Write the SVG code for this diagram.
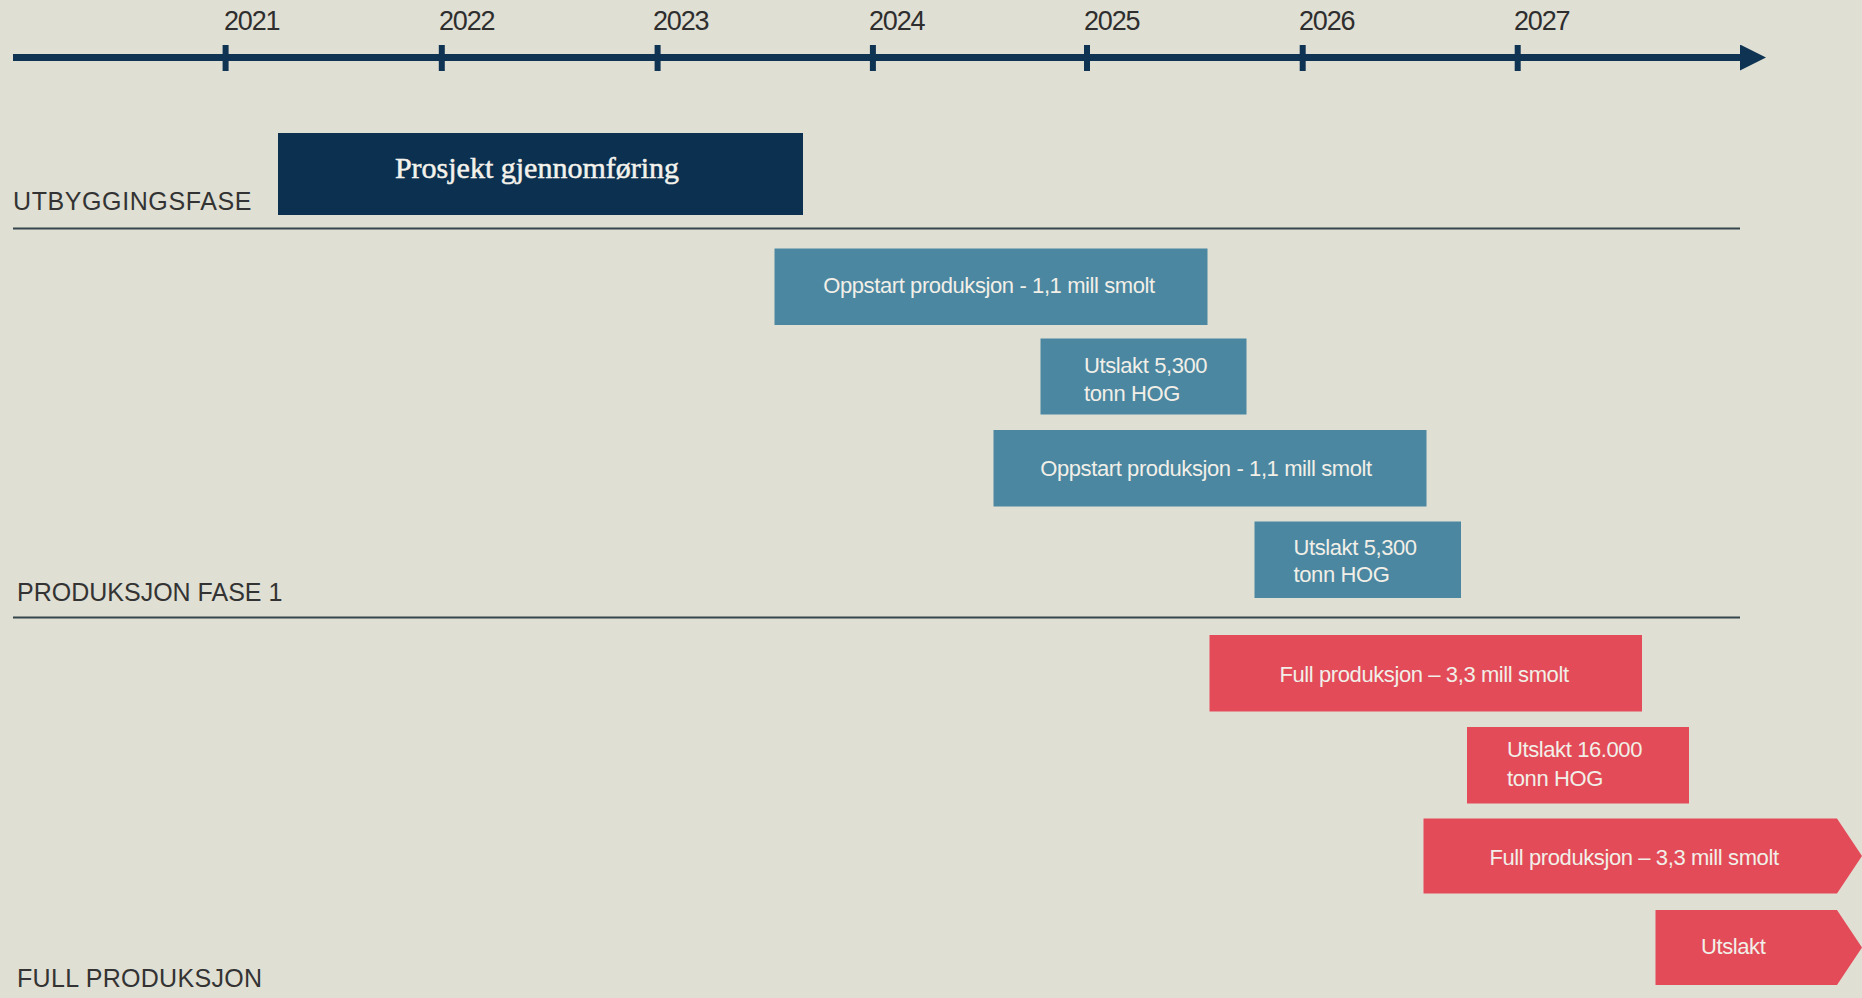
<svg xmlns="http://www.w3.org/2000/svg" width="1862" height="998" viewBox="0 0 1862 998">
<defs>
<style>
.bg{fill:#e0dfd4}
.year{font-family:"Liberation Sans",Arial,sans-serif;font-size:27px;fill:#2e2e2e;letter-spacing:-1.2px}
.phase{font-family:"Liberation Sans",Arial,sans-serif;font-size:25px;fill:#333333;letter-spacing:0.3px}
.divider{stroke:#34464c;stroke-width:2;fill:none}
.axis{stroke:#0f3352;fill:none}
.blue{fill:#4b87a0}
.red{fill:#e34b58}
.navy{fill:#0c3150}
.lbl{font-family:"Liberation Sans",Arial,sans-serif;font-size:22px;fill:#f1efe8;letter-spacing:-0.4px}
.serif{font-family:"Liberation Serif","Times New Roman",serif;font-size:30px;fill:#f4f2ec;stroke:#f4f2ec;stroke-width:0.5}
</style>
<marker id="axisArrow" markerUnits="userSpaceOnUse" markerWidth="26" markerHeight="26" refX="0" refY="13" orient="auto">
<path d="M0,0 L26,13 L0,26 Z" fill="#0f3352"/>
</marker>
</defs>
<rect class="bg" x="0" y="0" width="1862" height="998"/>

<g id="timeline">
<line class="axis" x1="13" y1="57.5" x2="1740" y2="57.5" stroke-width="7" marker-end="url(#axisArrow)"/>
<g stroke="#0f3352" stroke-width="6">
<line x1="225.6" y1="45" x2="225.6" y2="71"/>
<line x1="441.8" y1="45" x2="441.8" y2="71"/>
<line x1="657.6" y1="45" x2="657.6" y2="71"/>
<line x1="872.9" y1="45" x2="872.9" y2="71"/>
<line x1="1087" y1="45" x2="1087" y2="71"/>
<line x1="1302.7" y1="45" x2="1302.7" y2="71"/>
<line x1="1517.7" y1="45" x2="1517.7" y2="71"/>
</g>
<text class="year" x="224" y="30">2021</text>
<text class="year" x="439" y="30">2022</text>
<text class="year" x="653" y="30">2023</text>
<text class="year" x="869" y="30">2024</text>
<text class="year" x="1084" y="30">2025</text>
<text class="year" x="1299" y="30">2026</text>
<text class="year" x="1514" y="30">2027</text>
</g>

<g id="phases">
<text class="phase" x="13" y="210" style="letter-spacing:0.6px">UTBYGGINGSFASE</text>
<line class="divider" x1="13" y1="228.5" x2="1740" y2="228.5"/>
<text class="phase" x="17" y="601" style="letter-spacing:0px">PRODUKSJON FASE 1</text>
<line class="divider" x1="13" y1="617.5" x2="1740" y2="617.5"/>
<text class="phase" x="17" y="987">FULL PRODUKSJON</text>
</g>

<g id="prosjekt">
<rect class="navy" x="278" y="133" width="525" height="82"/>
<text class="serif" x="537" y="178" text-anchor="middle">Prosjekt gjennomføring</text>
</g>

<g id="oppstart1">
<rect class="blue" x="774.5" y="248.5" width="433" height="76.5"/>
<text class="lbl" x="989" y="293" text-anchor="middle">Oppstart produksjon - 1,1 mill smolt</text>
</g>

<g id="utslakt1">
<rect class="blue" x="1040.5" y="338.5" width="206" height="76"/>
<text class="lbl" x="1084" y="373">Utslakt 5,300</text>
<text class="lbl" x="1084" y="401">tonn HOG</text>
</g>

<g id="oppstart2">
<rect class="blue" x="993.5" y="430" width="433" height="76.5"/>
<text class="lbl" x="1206" y="476" text-anchor="middle">Oppstart produksjon - 1,1 mill smolt</text>
</g>

<g id="utslakt2">
<rect class="blue" x="1254.5" y="521.5" width="206.5" height="76.5"/>
<text class="lbl" x="1293.5" y="555">Utslakt 5,300</text>
<text class="lbl" x="1293.5" y="582">tonn HOG</text>
</g>

<g id="full1">
<rect class="red" x="1209.5" y="635" width="432.5" height="76.5"/>
<text class="lbl" x="1424" y="681.5" text-anchor="middle">Full produksjon  –  3,3 mill smolt</text>
</g>

<g id="utslakt3">
<rect class="red" x="1467" y="727" width="222" height="76.5"/>
<text class="lbl" x="1507" y="756.5">Utslakt 16.000</text>
<text class="lbl" x="1507" y="785.5">tonn HOG</text>
</g>

<g id="full2">
<polygon class="red" points="1423.5,818.5 1837,818.5 1862,856 1837,893.5 1423.5,893.5"/>
<text class="lbl" x="1634" y="865" text-anchor="middle">Full produksjon  –  3,3 mill smolt</text>
</g>

<g id="utslakt4">
<polygon class="red" points="1655.5,910 1837,910 1862,947.5 1837,985 1655.5,985"/>
<text class="lbl" x="1701" y="953.5">Utslakt</text>
</g>
</svg>
